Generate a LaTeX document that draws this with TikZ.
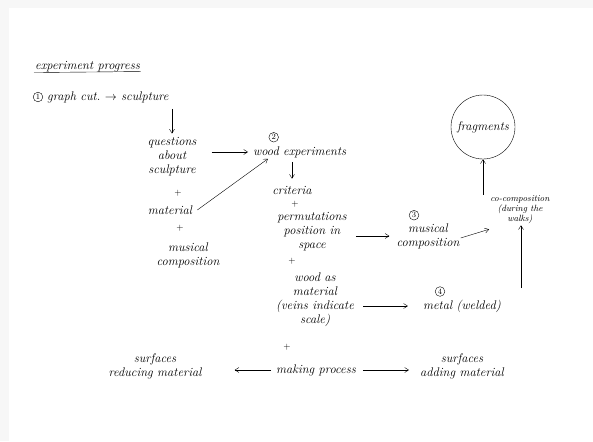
\documentclass[tikz,border=0pt]{standalone}
\usepackage{tikz}
\usetikzlibrary{arrows.meta,positioning}

\begin{document}
\begin{tikzpicture}[
  x=1pt, y=-1pt,
  node distance=4pt and 6pt,
  >={Straight Barb[length=4pt,width=5pt]},
  every node/.style={font=\fontsize{12.5}{14}\selectfont\itshape, inner sep=1pt},
  note/.style={align=center},
  plus/.style={font=\small},
  num/.style={circle, draw, thin, inner sep=1pt, font=\footnotesize},
  arr/.style={->, thin},
]

% === Paper ===
\fill[gray!6] (0,0) rectangle (593,441);
\fill[white] (9,8) rectangle (593,441);
\useasboundingbox (0,0) rectangle (593,441);

% === Title ===
\node[anchor=west] (title) at (34,67) {experiment progress};
\draw[thin] ([yshift=1pt]title.south west) -- ([yshift=2pt]title.south east);

% === 1: starting point ===
\node[num] (n1) at (38,97) {1};
\node[right=3pt of n1] (graph) {graph cut.\ $\rightarrow$ sculpture};
\node[note] (quest) at (172,157) {questions\\about\\sculpture};
\node[plus] (p1) at (178,193) {+};
\node[note] (mat) at (170,210) {material};
\node[plus] (p2) at (180,228) {+};
\node[note] (music) at (188,255) {musical\\composition};

% === 2: wood experiments ===
\node[anchor=west] (wood) at (252,152) {wood experiments};
\node[num, above=3pt of wood, xshift=-26pt] (n2) {2};
\node[note] (crit) at (292,190) {criteria};
\node[plus] (p3) at (295,204) {+};
\node[note] (perm) at (312,232) {permutations\\position in\\space};
\node[plus] (p4) at (292,261) {+};
\node[note] (woodmat) at (315,300) {wood as\\material\\(veins indicate\\scale)};
\node[plus] (p5) at (287,347) {+};
\node[note] (making) at (316,370) {making process};

% === 3 and 4 ===
\node[note] (mcomp) at (428,236) {musical\\composition};
\node[num, above=2pt of mcomp, xshift=-14pt] (n3) {3};
\node[note] (metal) at (462,306) {metal (welded)};
\node[num, above=2pt of metal, xshift=-22pt] (n4) {4};

% === Co-composition and fragments ===
\node[note, font=\fontsize{9}{10}\selectfont\itshape] (cocomp) at (520,210) {co-composition\\(during the\\walks)};
\node[circle, draw, thin, minimum size=64pt] (frag) at (483,127) {fragments};
\coordinate (mup) at (521,288);

% === Surfaces ===
\node[note] (reduce) at (155,366) {surfaces\\reducing material};
\node[note] (adding) at (462,366) {surfaces\\adding material};

% === Arrows ===
\draw[arr, shorten <=5pt, shorten >=3pt] (quest.north |- graph.south) -- (quest.north);
\draw[arr, shorten <=14pt, shorten >=4pt] (quest.east |- wood.west) -- (wood.west);
\draw[arr] ([xshift=4pt]mat.east) -- ([xshift=16pt]wood.south west);
\draw[arr, shorten <=3pt, shorten >=6pt] (crit.north |- wood.south) -- (crit.north);
\draw[arr, shorten <=8pt, shorten >=6pt] (perm.east |- mcomp.west) -- (mcomp.west);
\draw[arr] ([yshift=-2pt]mcomp.east) -- ([yshift=-4pt]cocomp.south west);
\draw[arr, shorten <=8pt, shorten >=14pt] (woodmat.east |- metal.west) -- (metal.west);
\draw[arr] (mup) -- (mup |- cocomp.south);
\draw[arr] ([xshift=-37pt]cocomp.north) -- (frag.south);
\draw[arr, shorten <=4pt, shorten >=32pt] (making.west) -- (reduce.east |- making.west);
\draw[arr, shorten <=6pt, shorten >=10pt] (making.east) -- (adding.west |- making.east);

\end{tikzpicture}
\end{document}
